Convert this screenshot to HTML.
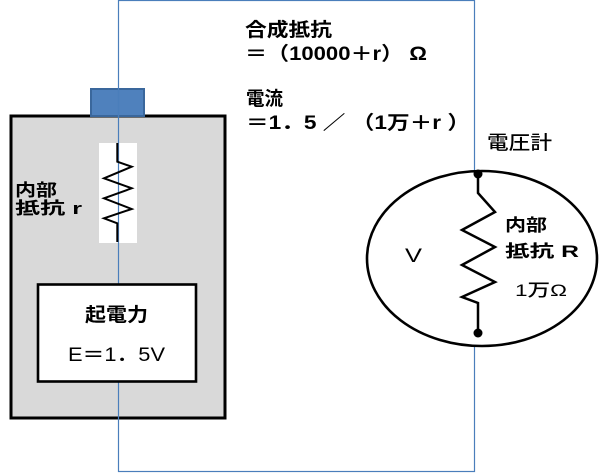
<!DOCTYPE html>
<html><head><meta charset="utf-8"><style>
html,body{margin:0;padding:0;background:#fff;}
svg{display:block;}
text{font-family:"Liberation Sans","Noto Sans CJK JP",sans-serif;fill:#000;}
.b{font-weight:bold;}
.m{font-weight:500;}
</style></head><body>
<svg width="600" height="473" viewBox="0 0 600 473" xmlns="http://www.w3.org/2000/svg">
<!-- battery body -->
<rect x="11" y="116" width="214" height="302" fill="#D9D9D9" stroke="#000" stroke-width="3"/>
<!-- cap -->
<rect x="91" y="89" width="53" height="27" fill="#4F81BD" stroke="#3A679C" stroke-width="2"/>
<!-- white strip -->
<rect x="99" y="143" width="38" height="100" fill="#fff"/>
<!-- blue wire -->
<rect x="118.5" y="0.5" width="356" height="471" fill="none" stroke="#4A7EBB" stroke-width="1.2"/>
<!-- inner box -->
<rect x="38" y="284.5" width="158" height="97" fill="#fff" stroke="#000" stroke-width="2.6"/>
<!-- ellipse -->
<ellipse cx="482" cy="258.5" rx="115" ry="87.5" fill="#fff" stroke="#000" stroke-width="2.6"/>
<!-- small resistor -->
<polyline points="117.3,143 117.3,161.7 131.7,166.7 104,178.3 131.7,188.3 104,198.3 131.7,209 104,218.3 117.3,223.3 117.3,242" fill="none" stroke="#000" stroke-width="2"/>
<!-- big resistor -->
<polyline points="478,174 478,193 495,212 462,230 495,247 462,265 495,282 462,297 478,303 478,333" fill="none" stroke="#000" stroke-width="2.5"/>
<circle cx="478" cy="174" r="4.5" fill="#000"/>
<circle cx="478" cy="333" r="4.5" fill="#000"/>

<!-- texts top -->
<text class="b" x="245" y="36" font-size="19" textLength="87" lengthAdjust="spacingAndGlyphs">合成抵抗</text>
<text class="b" x="245" y="60" font-size="19" textLength="182" lengthAdjust="spacingAndGlyphs">＝（10000＋r） Ω</text>
<text class="b" x="246" y="105" font-size="19" textLength="37" lengthAdjust="spacingAndGlyphs">電流</text>
<text class="b" x="246" y="129" font-size="19" textLength="224" lengthAdjust="spacingAndGlyphs">＝1．5 ／ （1万＋r ）</text>
<text class="m" x="487" y="149" font-size="19" textLength="65" lengthAdjust="spacingAndGlyphs">電圧計</text>

<!-- left labels -->
<text class="b" x="15" y="196" font-size="17" textLength="42" lengthAdjust="spacingAndGlyphs">内部</text>
<text class="b" x="15" y="214" font-size="17" textLength="67" lengthAdjust="spacingAndGlyphs">抵抗 r</text>

<!-- inner box labels -->
<text class="b" x="85" y="321" font-size="19" textLength="63" lengthAdjust="spacingAndGlyphs">起電力</text>
<text class="m" x="68" y="361" font-size="19" textLength="97" lengthAdjust="spacingAndGlyphs">E＝1．5V</text>

<!-- ellipse labels -->
<text class="m" x="405" y="262" font-size="19" textLength="17" lengthAdjust="spacingAndGlyphs">V</text>
<text class="b" x="505" y="231" font-size="17" textLength="42" lengthAdjust="spacingAndGlyphs">内部</text>
<text class="b" x="505" y="257" font-size="17" textLength="74" lengthAdjust="spacingAndGlyphs">抵抗 R</text>
<text class="m" x="515" y="296" font-size="17" textLength="52" lengthAdjust="spacingAndGlyphs">1万Ω</text>
</svg>
</body></html>
